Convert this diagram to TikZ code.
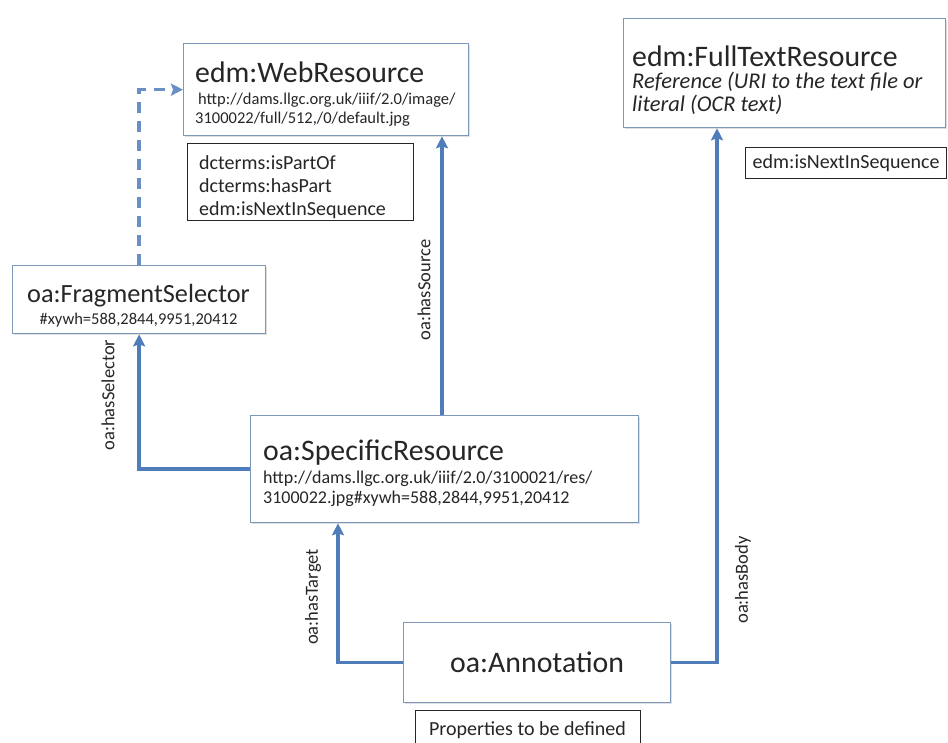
\documentclass[tikz,border=0pt]{standalone}
\usepackage{fontspec}
\setmainfont{Carlito}
\usetikzlibrary{arrows.meta,shadows}
\definecolor{edgeblue}{HTML}{4F7DBA}
\definecolor{dashblue}{HTML}{6A8FC4}
\definecolor{boxline}{HTML}{7F97B9}
\definecolor{txt}{HTML}{262626}
\begin{document}
\begin{tikzpicture}[x=1pt,y=-1pt,
  cls/.style={draw=boxline, line width=1.3pt, fill=white, inner sep=0pt, anchor=north west,
    drop shadow={opacity=0.25, shadow xshift=1.5pt, shadow yshift=-1.5pt}},
  propbox/.style={draw=black!85, line width=1.2pt, fill=white, inner sep=0pt, anchor=north west},
  ttl/.style={font=\fontsize{29.8}{32}\selectfont, text=txt, inner sep=0pt},
  sub/.style={font=\fontsize{16.5}{19}\selectfont, text=txt, inner sep=0pt},
  prop/.style={font=\fontsize{20}{24}\selectfont, text=txt, inner sep=0pt},
  elabel/.style={font=\fontsize{18.5}{22}\selectfont, text=txt, inner sep=0pt, rotate=90},
  edge/.style={draw=edgeblue, line width=3.4pt, -{Stealth[length=12pt,width=12pt,inset=2pt]}},
]
\useasboundingbox (0,0) rectangle (948,742);
\clip (0,0) rectangle (948,742);

% boxes
\node[cls, minimum width=285pt, minimum height=92pt] (web) at (183,43) {};
\node[cls, minimum width=322pt, minimum height=109pt] (ftr) at (623,18) {};
\node[cls, minimum width=253pt, minimum height=68pt] (frag) at (12,265) {};
\node[cls, minimum width=388pt, minimum height=107pt] (spec) at (250,415) {};
\node[cls, minimum width=267pt, minimum height=80pt] (ann) at (403,622) {};
\node[propbox, minimum width=226pt, minimum height=77pt] (webprops) at (187,143) {};
\node[propbox, minimum width=201pt, minimum height=31pt] (ftrprops) at (745,147) {};
\node[propbox, minimum width=225pt, minimum height=45pt] (annprops) at (415,710) {};

% texts: WebResource
\node[ttl, anchor=base west] (webt) at (195,82) {edm:WebResource};
\node[sub, anchor=base west] (webu1) at (198,104) {http://dams.llgc.org.uk/iiif/2.0/image/};
\node[sub, anchor=base west] (webu2) at (195,123) {3100022/full/512,/0/default.jpg};
\node[prop, anchor=base west] (wp1) at (199,169) {dcterms:isPartOf};
\node[prop, anchor=base west] (wp2) at (199,192) {dcterms:hasPart};
\node[prop, anchor=base west] (wp3) at (199,215) {edm:isNextInSequence};

% FullTextResource
\node[ttl, anchor=base west] (ftrt) at (632,66) {edm:FullTextResource};
\node[prop, anchor=base west, font=\fontsize{22.5}{26}\selectfont\itshape] (ftri1) at (632,88) {Reference (URI to the text file or};
\node[prop, anchor=base west, font=\fontsize{22.5}{26}\selectfont\itshape] (ftri2) at (632,111) {literal (OCR text)};
\node[prop, anchor=center] (ftrp) at (ftrprops.center) {edm:isNextInSequence};

% FragmentSelector
\node[ttl, anchor=base, font=\fontsize{26.3}{28}\selectfont] (fragt) at (138.5,302) {oa:FragmentSelector};
\node[sub, anchor=base] (fragu) at (138.5,324) {\#xywh=588,2844,9951,20412};

% SpecificResource
\node[ttl, anchor=base west] (spect) at (263,460) {oa:SpecificResource};
\node[sub, anchor=base west, font=\fontsize{18}{21}\selectfont] (specu1) at (263,483) {http://dams.llgc.org.uk/iiif/2.0/3100021/res/};
\node[sub, anchor=base west, font=\fontsize{18}{21}\selectfont] (specu2) at (263,503) {3100022.jpg\#xywh=588,2844,9951,20412};

% Annotation
\node[ttl, anchor=center] (annt) at (ann.center) {oa:Annotation};
\node[prop, anchor=center] (annp) at (527.5,730) {Properties to be defined};

% connectors
\coordinate (srcx) at (442,0);
\coordinate (tgtx) at (338,0);
\coordinate (bodyx) at (717,0);
\draw[edge, draw=dashblue, dash pattern=on 11pt off 8pt] (frag.north) |- (web.west);
\draw[edge] (spec.west) -| (frag.south);
\draw[edge] (spec.north -| srcx) -- (web.south -| srcx);
\draw[edge] (ann.west) -| (spec.south -| tgtx);
\draw[edge] (ann.east) -| (ftr.south -| bodyx);

% edge labels
\node[elabel] (lsel) at (108,395) {oa:hasSelector};
\node[elabel] (lsrc) at (424,290) {oa:hasSource};
\node[elabel] (ltgt) at (313,597) {oa:hasTarget};
\node[elabel] (lbody) at (743,580) {oa:hasBody};
\end{tikzpicture}
\end{document}
